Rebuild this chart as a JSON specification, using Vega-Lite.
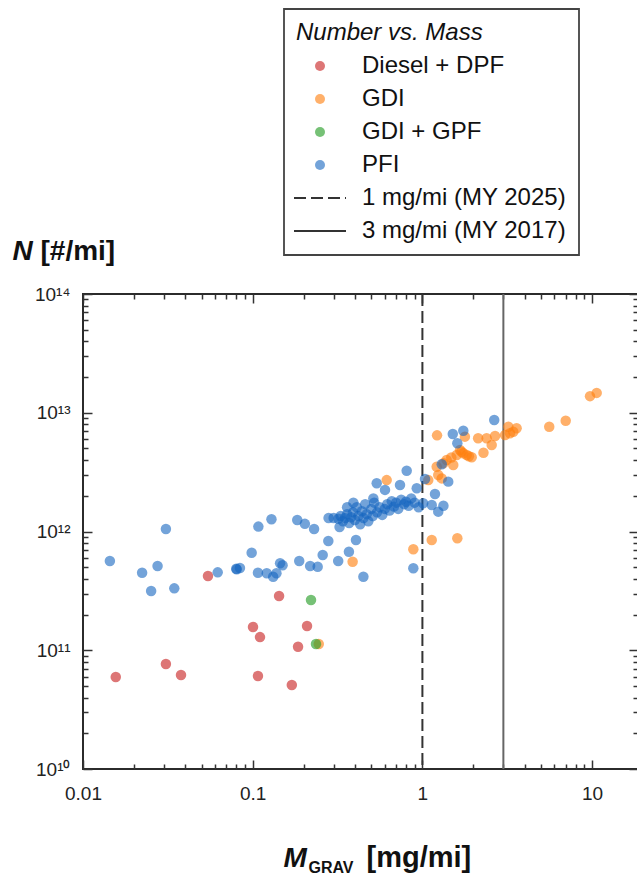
{
  "$schema": "https://vega.github.io/schema/vega-lite/v6.json",
  "width": 555,
  "height": 475,
  "autosize": {"type": "none"},
  "padding": {"left": 83, "top": 294, "right": 0, "bottom": 105},
  "background": "white",
  "config": {
    "view": {"stroke": "#2b2b2b", "strokeWidth": 2},
    "font": "Liberation Sans",
    "legend": {"strokeWidth": 1.8},
    "axis": {"grid": false, "domain": false, "tickColor": "#333333", "tickWidth": 1.5, "labelFont": "Liberation Sans", "labelFontSize": 19, "labelColor": "#222222", "titleFont": "Liberation Sans", "titleColor": "#111111", "labelFlush": false, "labelOverlap": false}
  },
  "datasets": {
    "pts": [
      {"series": "Diesel + DPF", "mass": 0.0156, "N": 5.96e10},
      {"series": "Diesel + DPF", "mass": 0.0308, "N": 7.66e10},
      {"series": "Diesel + DPF", "mass": 0.0378, "N": 6.19e10},
      {"series": "Diesel + DPF", "mass": 0.0545, "N": 4.22e11},
      {"series": "Diesel + DPF", "mass": 0.1004, "N": 1.57e11},
      {"series": "Diesel + DPF", "mass": 0.1104, "N": 1.29e11},
      {"series": "Diesel + DPF", "mass": 0.1074, "N": 6.07e10},
      {"series": "Diesel + DPF", "mass": 0.143, "N": 2.86e11},
      {"series": "Diesel + DPF", "mass": 0.185, "N": 1.07e11},
      {"series": "Diesel + DPF", "mass": 0.17, "N": 5.1e10},
      {"series": "Diesel + DPF", "mass": 0.209, "N": 1.6e11},
      {"series": "GDI", "mass": 0.245, "N": 1.13e11},
      {"series": "GDI", "mass": 0.388, "N": 5.57e11},
      {"series": "GDI", "mass": 0.616, "N": 2.71e12},
      {"series": "GDI", "mass": 1.22, "N": 6.45e12},
      {"series": "GDI", "mass": 1.214, "N": 3.51e12},
      {"series": "GDI", "mass": 1.135, "N": 8.48e11},
      {"series": "GDI", "mass": 0.884, "N": 7.08e11},
      {"series": "GDI", "mass": 1.606, "N": 8.77e11},
      {"series": "GDI", "mass": 9.72, "N": 1.38e13},
      {"series": "GDI", "mass": 10.64, "N": 1.47e13},
      {"series": "GDI", "mass": 6.99, "N": 8.57e12},
      {"series": "GDI", "mass": 5.59, "N": 7.63e12},
      {"series": "GDI", "mass": 3.21, "N": 7.63e12},
      {"series": "GDI", "mass": 3.59, "N": 7.4e12},
      {"series": "GDI", "mass": 3.43, "N": 6.92e12},
      {"series": "GDI", "mass": 2.13, "N": 6.09e12},
      {"series": "GDI", "mass": 2.39, "N": 6.09e12},
      {"series": "GDI", "mass": 2.68, "N": 6.37e12},
      {"series": "GDI", "mass": 3.07, "N": 6.5e12},
      {"series": "GDI", "mass": 3.28, "N": 6.71e12},
      {"series": "GDI", "mass": 2.56, "N": 5.35e12},
      {"series": "GDI", "mass": 2.29, "N": 4.61e12},
      {"series": "GDI", "mass": 1.78, "N": 6.29e12},
      {"series": "GDI", "mass": 1.666, "N": 4.86e12},
      {"series": "GDI", "mass": 1.824, "N": 4.41e12},
      {"series": "GDI", "mass": 1.952, "N": 4.22e12},
      {"series": "GDI", "mass": 1.742, "N": 4.56e12},
      {"series": "GDI", "mass": 1.592, "N": 4.41e12},
      {"series": "GDI", "mass": 1.39, "N": 4.0e12},
      {"series": "GDI", "mass": 1.52, "N": 3.63e12},
      {"series": "GDI", "mass": 1.33, "N": 3.75e12},
      {"series": "GDI", "mass": 1.24, "N": 2.99e12},
      {"series": "GDI", "mass": 1.3, "N": 2.8e12},
      {"series": "GDI", "mass": 1.083, "N": 2.71e12},
      {"series": "GDI", "mass": 1.7, "N": 4.7e12},
      {"series": "GDI", "mass": 1.88, "N": 4.3e12},
      {"series": "GDI", "mass": 1.48, "N": 4.2e12},
      {"series": "GDI + GPF", "mass": 0.2206, "N": 2.65e11},
      {"series": "GDI + GPF", "mass": 0.236, "N": 1.13e11},
      {"series": "PFI", "mass": 2.65, "N": 8.69e12},
      {"series": "PFI", "mass": 1.51, "N": 6.62e12},
      {"series": "PFI", "mass": 1.742, "N": 7.06e12},
      {"series": "PFI", "mass": 1.606, "N": 5.53e12},
      {"series": "PFI", "mass": 1.3, "N": 3.68e12},
      {"series": "PFI", "mass": 0.808, "N": 3.25e12},
      {"series": "PFI", "mass": 1.036, "N": 2.77e12},
      {"series": "PFI", "mass": 0.738, "N": 2.46e12},
      {"series": "PFI", "mass": 0.926, "N": 2.31e12},
      {"series": "PFI", "mass": 1.42, "N": 2.63e12},
      {"series": "PFI", "mass": 1.186, "N": 2.07e12},
      {"series": "PFI", "mass": 1.33, "N": 1.65e12},
      {"series": "PFI", "mass": 1.24, "N": 1.47e12},
      {"series": "PFI", "mass": 1.135, "N": 1.67e12},
      {"series": "PFI", "mass": 1.01, "N": 1.73e12},
      {"series": "PFI", "mass": 0.602, "N": 2.24e12},
      {"series": "PFI", "mass": 0.538, "N": 2.55e12},
      {"series": "PFI", "mass": 0.392, "N": 1.75e12},
      {"series": "PFI", "mass": 0.514, "N": 1.9e12},
      {"series": "PFI", "mass": 0.884, "N": 4.9e11},
      {"series": "PFI", "mass": 0.28, "N": 1.3e12},
      {"series": "PFI", "mass": 0.3, "N": 1.3e12},
      {"series": "PFI", "mass": 0.32, "N": 1.28e12},
      {"series": "PFI", "mass": 0.33, "N": 1.35e12},
      {"series": "PFI", "mass": 0.34, "N": 1.22e12},
      {"series": "PFI", "mass": 0.35, "N": 1.3e12},
      {"series": "PFI", "mass": 0.36, "N": 1.4e12},
      {"series": "PFI", "mass": 0.37, "N": 1.18e12},
      {"series": "PFI", "mass": 0.38, "N": 1.32e12},
      {"series": "PFI", "mass": 0.39, "N": 1.45e12},
      {"series": "PFI", "mass": 0.4, "N": 1.25e12},
      {"series": "PFI", "mass": 0.41, "N": 1.6e12},
      {"series": "PFI", "mass": 0.42, "N": 1.35e12},
      {"series": "PFI", "mass": 0.43, "N": 1.15e12},
      {"series": "PFI", "mass": 0.44, "N": 1.48e12},
      {"series": "PFI", "mass": 0.45, "N": 1.3e12},
      {"series": "PFI", "mass": 0.46, "N": 1.7e12},
      {"series": "PFI", "mass": 0.47, "N": 1.4e12},
      {"series": "PFI", "mass": 0.48, "N": 1.22e12},
      {"series": "PFI", "mass": 0.5, "N": 1.55e12},
      {"series": "PFI", "mass": 0.51, "N": 1.35e12},
      {"series": "PFI", "mass": 0.52, "N": 1.75e12},
      {"series": "PFI", "mass": 0.54, "N": 1.45e12},
      {"series": "PFI", "mass": 0.56, "N": 1.6e12},
      {"series": "PFI", "mass": 0.58, "N": 1.38e12},
      {"series": "PFI", "mass": 0.6, "N": 1.55e12},
      {"series": "PFI", "mass": 0.62, "N": 1.7e12},
      {"series": "PFI", "mass": 0.64, "N": 1.5e12},
      {"series": "PFI", "mass": 0.66, "N": 1.8e12},
      {"series": "PFI", "mass": 0.68, "N": 1.62e12},
      {"series": "PFI", "mass": 0.7, "N": 1.75e12},
      {"series": "PFI", "mass": 0.72, "N": 1.55e12},
      {"series": "PFI", "mass": 0.75, "N": 1.85e12},
      {"series": "PFI", "mass": 0.78, "N": 1.7e12},
      {"series": "PFI", "mass": 0.8, "N": 1.78e12},
      {"series": "PFI", "mass": 0.83, "N": 1.65e12},
      {"series": "PFI", "mass": 0.86, "N": 1.9e12},
      {"series": "PFI", "mass": 0.9, "N": 1.75e12},
      {"series": "PFI", "mass": 0.95, "N": 1.6e12},
      {"series": "PFI", "mass": 0.36, "N": 1.6e12},
      {"series": "PFI", "mass": 0.325, "N": 1.09e12},
      {"series": "PFI", "mass": 0.108, "N": 1.1e12},
      {"series": "PFI", "mass": 0.129, "N": 1.27e12},
      {"series": "PFI", "mass": 0.183, "N": 1.25e12},
      {"series": "PFI", "mass": 0.203, "N": 1.16e12},
      {"series": "PFI", "mass": 0.23, "N": 1.05e12},
      {"series": "PFI", "mass": 0.0986, "N": 6.63e11},
      {"series": "PFI", "mass": 0.279, "N": 8.32e11},
      {"series": "PFI", "mass": 0.2585, "N": 6.34e11},
      {"series": "PFI", "mass": 0.188, "N": 5.65e11},
      {"series": "PFI", "mass": 0.218, "N": 5.12e11},
      {"series": "PFI", "mass": 0.2415, "N": 5.05e11},
      {"series": "PFI", "mass": 0.145, "N": 5.4e11},
      {"series": "PFI", "mass": 0.15, "N": 5.2e11},
      {"series": "PFI", "mass": 0.1074, "N": 4.5e11},
      {"series": "PFI", "mass": 0.121, "N": 4.45e11},
      {"series": "PFI", "mass": 0.132, "N": 4.16e11},
      {"series": "PFI", "mass": 0.138, "N": 4.45e11},
      {"series": "PFI", "mass": 0.319, "N": 5.65e11},
      {"series": "PFI", "mass": 0.369, "N": 6.76e11},
      {"series": "PFI", "mass": 0.406, "N": 8.48e11},
      {"series": "PFI", "mass": 0.449, "N": 4.16e11},
      {"series": "PFI", "mass": 0.0841, "N": 4.93e11},
      {"series": "PFI", "mass": 0.08, "N": 4.85e11},
      {"series": "PFI", "mass": 0.0805, "N": 4.8e11},
      {"series": "PFI", "mass": 0.0622, "N": 4.53e11},
      {"series": "PFI", "mass": 0.0144, "N": 5.65e11},
      {"series": "PFI", "mass": 0.0223, "N": 4.5e11},
      {"series": "PFI", "mass": 0.0275, "N": 5.12e11},
      {"series": "PFI", "mass": 0.0252, "N": 3.15e11},
      {"series": "PFI", "mass": 0.0308, "N": 1.05e12},
      {"series": "PFI", "mass": 0.0345, "N": 3.32e11}
    ],
    "lims": [
      {"series": "1 mg/mi (MY 2025)", "mass": 1},
      {"series": "3 mg/mi (MY 2017)", "mass": 3}
    ]
  },
  "layer": [
    {
      "data": {"name": "lims"},
      "transform": [{"filter": "datum.series === '1 mg/mi (MY 2025)'"}],
      "mark": {"type": "rule", "color": "#333333", "strokeWidth": 2, "strokeDash": [12, 5]},
      "encoding": {
        "x": {"field": "mass", "type": "quantitative", "scale": {"type": "log", "domain": [0.01, 18.64], "nice": false},
          "axis": {"orient": "bottom", "values": [0.02,0.03,0.04,0.05,0.06,0.07,0.08,0.09,0.2,0.3,0.4,0.5,0.6,0.7,0.8,0.9,2,3,4,5,6,7,8,9], "labels": false, "tickSize": -5,
            "title": "M", "titleFontStyle": "italic", "titleFontWeight": "bold", "titleFontSize": 28, "titleX": 200, "titleY": 97, "titleAlign": "left", "titleBaseline": "alphabetic", "titleAngle": 0}}
      }
    },
    {
      "data": {"name": "lims"},
      "transform": [{"filter": "datum.series === '3 mg/mi (MY 2017)'"}],
      "mark": {"type": "rule", "color": "#666666", "strokeWidth": 2},
      "encoding": {
        "x": {"field": "mass", "type": "quantitative", "scale": {"type": "log", "domain": [0.01, 18.64], "nice": false},
          "axis": {"orient": "top", "values": [0.02,0.03,0.04,0.05,0.06,0.07,0.08,0.09,0.2,0.3,0.4,0.5,0.6,0.7,0.8,0.9,2,3,4,5,6,7,8,9], "labels": false, "tickSize": -5,
            "title": "GRAV", "titleFontWeight": "bold", "titleFontSize": 16, "titleX": 225, "titleY": 578, "titleAlign": "left", "titleBaseline": "alphabetic", "titleAngle": 0}}
      }
    },
    {
      "data": {"name": "pts"},
      "mark": {"type": "point", "filled": true, "opacity": 1, "size": 110, "strokeWidth": 2},
      "encoding": {
        "x": {"field": "mass", "type": "quantitative", "scale": {"type": "log", "domain": [0.01, 18.64], "nice": false},
          "axis": {"orient": "bottom", "values": [0.01, 0.1, 1, 10], "format": "~g", "tickSize": -9, "labelPadding": 24,
            "title": "[mg/mi]", "titleFontWeight": "bold", "titleFontSize": 29, "titleX": 283, "titleY": 97, "titleAlign": "left", "titleBaseline": "alphabetic", "titleAngle": 0}},
        "y": {"field": "N", "type": "quantitative", "scale": {"type": "log", "domain": [1e10, 1e14], "nice": false},
          "axis": {"orient": "left", "values": [1e10, 1e11, 1e12, 1e13, 1e14], "tickSize": -9, "labelPadding": 22,
            "labelExpr": "datum.value > 5e13 ? '10¹⁴' : datum.value > 5e12 ? '10¹³' : datum.value > 5e11 ? '10¹²' : datum.value > 5e10 ? '10¹¹' : '10¹⁰'",
            "title": "[#/mi]", "titleFontWeight": "bold", "titleFontSize": 28, "titleX": -43, "titleY": -35, "titleAlign": "left", "titleBaseline": "alphabetic", "titleAngle": 0}},
        "color": {"field": "series", "type": "nominal",
          "scale": {"domain": ["Diesel + DPF", "GDI", "GDI + GPF", "PFI", "1 mg/mi (MY 2025)", "3 mg/mi (MY 2017)"],
                    "range": ["rgba(204,51,51,0.67)", "rgba(255,127,14,0.62)", "rgba(44,160,44,0.65)", "rgba(21,101,192,0.6)", "rgba(51,51,51,1)", "rgba(51,51,51,1)"]},
          "legend": {
            "orient": "none", "legendX": 201, "legendY": -285,
            "title": "\u00a0\u00a0Number vs. Mass", "titleFontStyle": "italic", "titleFontWeight": "normal", "titleFontSize": 24, "titleFont": "Liberation Sans", "titleColor": "#111111", "titlePadding": 9, "titleLimit": 400,
            "labelFontSize": 24, "labelFont": "Liberation Sans", "labelColor": "#111111", "labelLimit": 400,
            "padding": 12, "symbolOffset": 12, "labelOffset": 30, "rowPadding": 9, "symbolSize": 100, "symbolStrokeWidth": 2,
            "strokeColor": "#444444"
          }},
        "shape": {"field": "series", "type": "nominal",
          "scale": {"domain": ["Diesel + DPF", "GDI", "GDI + GPF", "PFI", "1 mg/mi (MY 2025)", "3 mg/mi (MY 2017)"],
                    "range": ["circle", "circle", "circle", "circle", "M-5.2,0H5.2", "M-5.2,0H5.2"]}},
        "stroke": {"field": "series", "type": "nominal",
          "scale": {"domain": ["Diesel + DPF", "GDI", "GDI + GPF", "PFI", "1 mg/mi (MY 2025)", "3 mg/mi (MY 2017)"],
                    "range": ["transparent", "transparent", "transparent", "transparent", "#333333", "#333333"]}},
        "strokeDash": {"field": "series", "type": "nominal",
          "scale": {"domain": ["Diesel + DPF", "GDI", "GDI + GPF", "PFI", "1 mg/mi (MY 2025)", "3 mg/mi (MY 2017)"],
                    "range": [[1, 0], [1, 0], [1, 0], [1, 0], [12, 5], [1, 0]]}}
      }
    },
    {
      "data": {"name": "pts"},
      "mark": {"type": "point", "opacity": 0},
      "encoding": {
        "x": {"field": "mass", "type": "quantitative", "scale": {"type": "log", "domain": [0.01, 18.64], "nice": false},
          "axis": {"orient": "top", "values": [0.01, 0.1, 1, 10], "labels": false, "tickSize": -9, "title": null}},
        "y": {"field": "N", "type": "quantitative", "scale": {"type": "log", "domain": [1e10, 1e14], "nice": false},
          "axis": {"orient": "left", "values": [2e10,3e10,4e10,5e10,6e10,7e10,8e10,9e10,2e11,3e11,4e11,5e11,6e11,7e11,8e11,9e11,2e12,3e12,4e12,5e12,6e12,7e12,8e12,9e12,2e13,3e13,4e13,5e13,6e13,7e13,8e13,9e13], "labels": false, "tickSize": -5,
            "title": "N", "titleFontStyle": "italic", "titleFontWeight": "bold", "titleFontSize": 28, "titleX": -71, "titleY": -35, "titleAlign": "left", "titleBaseline": "alphabetic", "titleAngle": 0}}
      }
    },
    {
      "data": {"name": "pts"},
      "mark": {"type": "point", "opacity": 0},
      "encoding": {
        "x": {"field": "mass", "type": "quantitative", "scale": {"type": "log", "domain": [0.01, 18.64], "nice": false}, "axis": null},
        "y": {"field": "N", "type": "quantitative", "scale": {"type": "log", "domain": [1e10, 1e14], "nice": false},
          "axis": {"orient": "right", "values": [1e10, 1e11, 1e12, 1e13, 1e14], "labels": false, "tickSize": -9, "title": null}}
      }
    },
    {
      "data": {"name": "pts"},
      "mark": {"type": "point", "opacity": 0},
      "encoding": {
        "x": {"field": "mass", "type": "quantitative", "scale": {"type": "log", "domain": [0.01, 18.64], "nice": false}, "axis": null},
        "y": {"field": "N", "type": "quantitative", "scale": {"type": "log", "domain": [1e10, 1e14], "nice": false},
          "axis": {"orient": "right", "values": [2e10,3e10,4e10,5e10,6e10,7e10,8e10,9e10,2e11,3e11,4e11,5e11,6e11,7e11,8e11,9e11,2e12,3e12,4e12,5e12,6e12,7e12,8e12,9e12,2e13,3e13,4e13,5e13,6e13,7e13,8e13,9e13], "labels": false, "tickSize": -5, "title": null}}
      }
    }
  ],
  "resolve": {"scale": {"x": "shared", "y": "shared"}, "axis": {"x": "independent", "y": "independent"}}
}
